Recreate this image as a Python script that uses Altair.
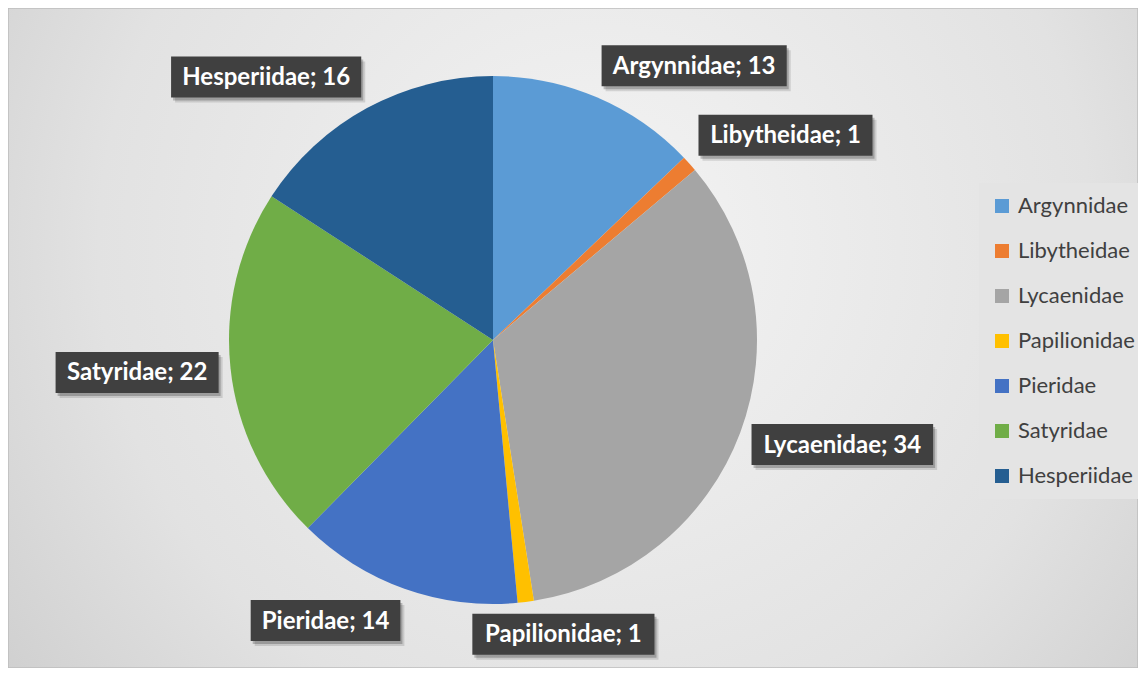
import altair as alt
import pandas as pd
import numpy as np

# ---- data ----
families = ["Argynnidae", "Libytheidae", "Lycaenidae", "Papilionidae",
            "Pieridae", "Satyridae", "Hesperiidae"]
counts = [13, 1, 34, 1, 14, 22, 16]
colors = ["#5B9BD5", "#ED7D31", "#A5A5A5", "#FFC000",
          "#4472C4", "#70AD47", "#255E91"]

# ---- layout / style ----
W, H = 1130, 660
CX, CY = 485, 332          # pie centre (plot-area pixels)
R = 264                    # pie radius
GAP = 12                   # distance of label boxes from the pie edge
REF_PX = 26.3              # reference label font size used to size boxes
BOX_PAD = 10
BOX_H = 41
LABEL_FONT = "Lato"
LABEL_SIZE = 24

# approximate bold glyph advance widths (em/1000) to size label boxes
glyph_w = {"A": 606, "L": 423, "P": 532, "S": 473, "H": 631, "a": 494, "b": 537,
           "c": 418, "d": 537, "e": 503, "g": 474, "h": 537, "i": 246, "l": 246,
           "n": 537, "o": 538, "p": 537, "r": 355, "s": 399, "t": 347, "y": 474,
           ";": 276, " ": 226}

labels = [f"{f}; {c}" for f, c in zip(families, counts)]
vals = np.array(counts, dtype=float)
cum = np.cumsum(vals)
start = cum - vals
mid = (start + vals / 2) / vals.sum() * 2 * np.pi
sn, cs = np.sin(mid), -np.cos(mid)
px = CX + (R + GAP) * sn
py = CY + (R + GAP) * cs
sx = np.clip(3.2 * sn, -1, 1)
sy = np.where(np.abs(cs) > 0.5, np.sign(cs), np.clip(1.1 * cs, -1, 1))
bw = np.array([sum(glyph_w.get(ch, 507) for ch in t) * REF_PX / 1000 + 2 * BOX_PAD
               for t in labels])
bx = px + sx * bw / 2
by = py + sy * BOX_H / 2

df = pd.DataFrame({
    "family": families,
    "count": counts,
    "idx": list(range(len(families))),
    "label": labels,
    "bx": bx, "by": by,
    "x0": bx - bw / 2, "x1": bx + bw / 2,
    "y0": by - BOX_H / 2, "y1": by + BOX_H / 2,
})
for k in (2, 4):
    df[f"sx0_{k}"] = df["x0"] + k
    df[f"sx1_{k}"] = df["x1"] + k
    df[f"sy0_{k}"] = df["y0"] + k + 1
    df[f"sy1_{k}"] = df["y1"] + k + 1

xs = alt.Scale(domain=[0, W], nice=False, zero=False)
ys = alt.Scale(domain=[0, H], nice=False, zero=False, reverse=True)

bg = alt.Chart(pd.DataFrame({"a": [0]})).mark_rect(
    fill=alt.RadialGradient(
        gradient="radial",
        stops=[alt.GradientStop(offset=0, color="#f4f4f4"),
               alt.GradientStop(offset=0.55, color="#e2e2e2"),
               alt.GradientStop(offset=1, color="#c2c2c2")],
        x1=0.52, y1=0.42, r1=0, x2=0.52, y2=0.42, r2=0.8),
    stroke="#bdbdbd", strokeWidth=1.5
).encode(x=alt.value(0), x2=alt.value(W), y=alt.value(0), y2=alt.value(H))

arcs = alt.Chart(df).mark_arc(outerRadius=R).encode(
    theta=alt.Theta("count:Q", stack=True),
    order=alt.Order("idx:Q"),
    color=alt.Color("family:N",
                    scale=alt.Scale(domain=families, range=colors),
                    sort=families,
                    legend=alt.Legend(
                        title=None, orient="none", legendX=971, legendY=175,
                        fillColor="#e4e4e4", padding=12,
                        symbolType="square", symbolSize=196, symbolStrokeWidth=0,
                        labelFont=LABEL_FONT, labelFontSize=22, labelColor="#404040",
                        rowPadding=23, labelOffset=5)),
    x=alt.value(CX), y=alt.value(CY),
)

shadows = []
for k, op in ((4, 0.12), (2, 0.22)):
    shadows.append(alt.Chart(df).mark_rect(color="#000000", opacity=op).encode(
        x=alt.X(f"sx0_{k}:Q", scale=xs, axis=None), x2=f"sx1_{k}:Q",
        y=alt.Y(f"sy0_{k}:Q", scale=ys, axis=None), y2=f"sy1_{k}:Q"))

boxes = alt.Chart(df).mark_rect(color="#404040").encode(
    x=alt.X("x0:Q", scale=xs, axis=None), x2="x1:Q",
    y=alt.Y("y0:Q", scale=ys, axis=None), y2="y1:Q")

texts = alt.Chart(df).mark_text(
    font=LABEL_FONT, fontSize=LABEL_SIZE, fontWeight="bold", color="white",
    align="center", baseline="middle", dy=1
).encode(
    x=alt.X("bx:Q", scale=xs, axis=None),
    y=alt.Y("by:Q", scale=ys, axis=None),
    text="label:N")

chart = alt.layer(bg, arcs, *shadows, boxes, texts).properties(
    width=W, height=H, padding=0, autosize="none"
).configure_view(stroke=None)

chart.save("out.html", embed_options={"renderer": "svg", "actions": False})
